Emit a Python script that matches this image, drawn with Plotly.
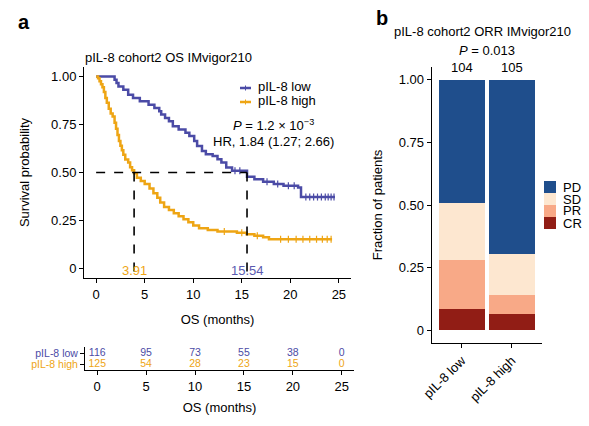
import numpy as np
import plotly.graph_objects as go

# Kaplan-Meier steps (time in months, survival after the step)
low_t = [0, 1.9, 2.1, 2.3, 2.8, 3.3, 3.8, 4.5, 5.4, 6.0, 6.5, 6.7, 7.1, 7.5, 7.9, 8.5,
         9.2, 9.6, 10.1, 10.4, 10.9, 11.3, 12.0, 12.5, 12.9, 13.4, 14.0, 15.54, 16.3,
         17.2, 18.3, 19.3, 20.8, 21.1, 24.6]
low_s = [1.0, 0.983, 0.966, 0.948, 0.931, 0.905, 0.888, 0.871, 0.853, 0.836, 0.819,
         0.802, 0.784, 0.767, 0.741, 0.724, 0.707, 0.690, 0.664, 0.638, 0.612, 0.595,
         0.586, 0.569, 0.552, 0.526, 0.509, 0.478, 0.465, 0.452, 0.440, 0.431, 0.422,
         0.372, 0.372]
high_t = [0, 0.2, 0.35, 0.5, 0.65, 0.8, 0.95, 1.1, 1.3, 1.5, 1.7, 1.9, 2.05, 2.2, 2.35,
          2.5, 2.65, 2.8, 3.0, 3.3, 3.5, 3.7, 3.91, 4.2, 4.6, 5.0, 5.5, 5.9, 6.3, 6.6,
          7.0, 7.5, 8.0, 8.5, 9.0, 9.5, 10.0, 10.6, 11.5, 12.5, 14.5, 15.5, 16.3, 17.2,
          17.8, 24.3]
high_s = [1.0, 0.992, 0.976, 0.960, 0.944, 0.920, 0.888, 0.864, 0.832, 0.808, 0.792,
          0.760, 0.728, 0.696, 0.664, 0.640, 0.616, 0.592, 0.568, 0.552, 0.528, 0.512,
          0.496, 0.472, 0.456, 0.440, 0.416, 0.392, 0.368, 0.344, 0.320, 0.304, 0.288,
          0.272, 0.256, 0.240, 0.224, 0.210, 0.200, 0.192, 0.186, 0.178, 0.170, 0.162,
          0.152, 0.152]
low_cens = [14.3, 14.8, 17.6, 18.7, 19.8, 20.4, 21.6, 22.0, 22.4, 22.8, 23.2, 23.6,
            23.9, 24.2, 24.5]
high_cens = [13.2, 15.0, 16.6, 19.0, 19.8, 20.6, 21.3, 22.0, 22.7, 23.3, 23.8, 24.2]
median_low = 15.54
median_high = 3.91

risk_times = [0, 5, 10, 15, 20, 25]
risk_low = [116, 95, 73, 55, 38, 0]
risk_high = [125, 54, 28, 23, 15, 0]

# response counts (ORR panel)
groups = ["pIL-8 low", "pIL-8 high"]
group_n = [104, 105]
cr_counts = [9, 7]
pr_counts = [20, 8]
sd_counts = [24, 17]
pd_counts = [51, 73]

BLUE = "#4b4ba6"
ORANGE = "#eea514"
resp_colors = {"CR": "#911d15", "PR": "#f8a987", "SD": "#fde7d0", "PD": "#1f4e8c"}
FONT = "Liberation Sans, Arial, sans-serif"

W, H = 589, 426


def px(x):
    return x / W


def py(y):
    return 1 - y / H


def step_at(ts, ss, x):
    i = np.searchsorted(ts, x, side="right") - 1
    return np.asarray(ss)[i]


fig = go.Figure()

# KM curves
for ts, ss, cens, col, name in [(low_t, low_s, low_cens, BLUE, "pIL-8 low"),
                                 (high_t, high_s, high_cens, ORANGE, "pIL-8 high")]:
    fig.add_trace(go.Scatter(x=ts, y=ss, mode="lines", line=dict(color=col, width=2.5, shape="hv"),
                             name=name, showlegend=False, xaxis="x", yaxis="y"))
    fig.add_trace(go.Scatter(x=cens, y=step_at(ts, ss, cens), mode="markers",
                             marker=dict(symbol="line-ns", size=5, line=dict(color=col, width=1.2)),
                             showlegend=False, xaxis="x", yaxis="y"))

# median guide lines
fig.add_trace(go.Scatter(x=[0, median_low], y=[0.5, 0.5], mode="lines",
                         line=dict(color="black", width=1.6, dash="dash"),
                         showlegend=False, xaxis="x", yaxis="y"))
for m in [median_high, median_low]:
    fig.add_trace(go.Scatter(x=[m, m], y=[0.5, -0.04], mode="lines",
                             line=dict(color="black", width=1.6, dash="dash"),
                             showlegend=False, xaxis="x", yaxis="y"))

# risk table
fig.add_trace(go.Scatter(x=risk_times, y=[1] * len(risk_times), mode="text",
                         text=[str(v) for v in risk_low], textfont=dict(color=BLUE, size=10.5, family=FONT),
                         showlegend=False, xaxis="x2", yaxis="y2"))
fig.add_trace(go.Scatter(x=risk_times, y=[0] * len(risk_times), mode="text",
                         text=[str(v) for v in risk_high], textfont=dict(color=ORANGE, size=10.5, family=FONT),
                         showlegend=False, xaxis="x2", yaxis="y2"))

# stacked response bars
for cat, counts in [("CR", cr_counts), ("PR", pr_counts), ("SD", sd_counts), ("PD", pd_counts)]:
    frac = [c / n for c, n in zip(counts, group_n)]
    fig.add_trace(go.Bar(x=groups, y=frac, name=cat, marker=dict(color=resp_colors[cat], line_width=0),
                         showlegend=False, xaxis="x3", yaxis="y3"))

axis_common = dict(showline=True, linecolor="black", linewidth=1, ticks="outside", ticklen=4,
                   tickcolor="black", tickwidth=1, showgrid=False, zeroline=False, automargin=False,
                   tickfont=dict(size=13, color="black", family=FONT))

fig.update_layout(
    width=W, height=H, margin=dict(l=0, r=0, t=0, b=0, autoexpand=False),
    plot_bgcolor="white", paper_bgcolor="white",
    font=dict(family=FONT, size=13, color="black"),
    barmode="stack", bargap=0.08,
    xaxis=dict(domain=[px(84), px(351)], range=[-1.25, 26.25], tickvals=risk_times,
               title=dict(text="OS (months)", standoff=14, font=dict(size=13)), anchor="y", **axis_common),
    yaxis=dict(domain=[py(278), py(67)], range=[-0.05, 1.05], tickvals=[0, 0.25, 0.5, 0.75, 1],
               ticktext=["0", "0.25", "0.50", "0.75", "1.00"], anchor="x",
               title=dict(text="Survival probability", standoff=18, font=dict(size=13)), **axis_common),
    xaxis2=dict(domain=[px(85), px(354)], range=[-1.25, 26.25], tickvals=risk_times, anchor="y2",
                title=dict(text="OS (months)", standoff=10, font=dict(size=13)), **axis_common),
    yaxis2=dict(domain=[py(370), py(347)], range=[-0.55, 1.6], tickvals=[0, 1], anchor="x2",
                ticktext=[f"<span style='color:{ORANGE}'>pIL-8 high</span>",
                          f"<span style='color:{BLUE}'>pIL-8 low</span>"],
                **{**axis_common, "tickfont": dict(size=10.5, family=FONT)}),
    xaxis3=dict(domain=[px(431.7), px(541.7)], range=[-0.6, 1.6], anchor="y3", tickangle=-45,
                **axis_common),
    yaxis3=dict(domain=[py(343), py(67)], range=[-0.05, 1.05], tickvals=[0, 0.25, 0.5, 0.75, 1],
                ticktext=["0", "0.25", "0.50", "0.75", "1.00"], anchor="x3",
                title=dict(text="Fraction of patients", standoff=13, font=dict(size=13)),
                **axis_common),
)

ann = []
ann.append(dict(text="<b>a</b>", x=px(16), y=py(22), font=dict(size=20)))
ann.append(dict(text="pIL-8 cohort2 OS IMvigor210", x=px(83), y=py(57)))
ann.append(dict(text="pIL-8 low", x=px(256), y=py(87)))
ann.append(dict(text="pIL-8 high", x=px(256), y=py(101)))
ann.append(dict(text="<i>P</i> = 1.2 × 10<sup>−3</sup>", x=px(273), y=py(125), xanchor="center"))
ann.append(dict(text="HR, 1.84 (1.27; 2.66)", x=px(273), y=py(142), xanchor="center"))
ann.append(dict(text="<b>b</b>", x=px(374), y=py(18), font=dict(size=20)))
ann.append(dict(text="pIL-8 cohort2 ORR IMvigor210", x=px(392), y=py(32)))
ann.append(dict(text="<i>P</i> = 0.013", x=px(487), y=py(50), xanchor="center"))
for a in ann:
    a.setdefault("xref", "paper")
    a.setdefault("yref", "paper")
    a.setdefault("xanchor", "left")
    a.setdefault("yanchor", "middle")
    a.setdefault("showarrow", False)
    fig.add_annotation(**a)

# median labels
fig.add_annotation(text=f"{median_high:.2f}", x=median_high, y=-0.01, xref="x", yref="y",
                   showarrow=False, font=dict(color=ORANGE, size=13))
fig.add_annotation(text=f"{median_low:.2f}", x=median_low, y=-0.01, xref="x", yref="y",
                   showarrow=False, font=dict(color="#5a5ab0", size=13))

# group sizes above bars
for g, n in zip(groups, group_n):
    fig.add_annotation(text=str(n), x=g, y=py(68), xref="x3", yref="paper",
                       showarrow=False, yanchor="middle")

# manual legend keys, panel a
for yk, col in [(88, BLUE), (102, ORANGE)]:
    fig.add_shape(type="line", x0=px(240), x1=px(251), y0=py(yk), y1=py(yk), xref="paper", yref="paper",
                  line=dict(color=col, width=2.5))
    fig.add_shape(type="line", x0=px(245.5), x1=px(245.5), y0=py(yk - 2.5), y1=py(yk + 2.5),
                  xref="paper", yref="paper", line=dict(color=col, width=1))

# manual legend, panel b
for i, cat in enumerate(["PD", "SD", "PR", "CR"]):
    top = 181 + 12 * i
    fig.add_shape(type="rect", x0=px(544), x1=px(556), y0=py(top), y1=py(top + 12),
                  xref="paper", yref="paper", fillcolor=resp_colors[cat], line_width=0)
    fig.add_annotation(text=cat, x=px(561), y=py(top + 6), xref="paper", yref="paper",
                       xanchor="left", yanchor="middle", showarrow=False, font=dict(size=13))

fig.write_html("out.html", config={"displayModeBar": False},
               post_script="document.body.style.margin='0';")
